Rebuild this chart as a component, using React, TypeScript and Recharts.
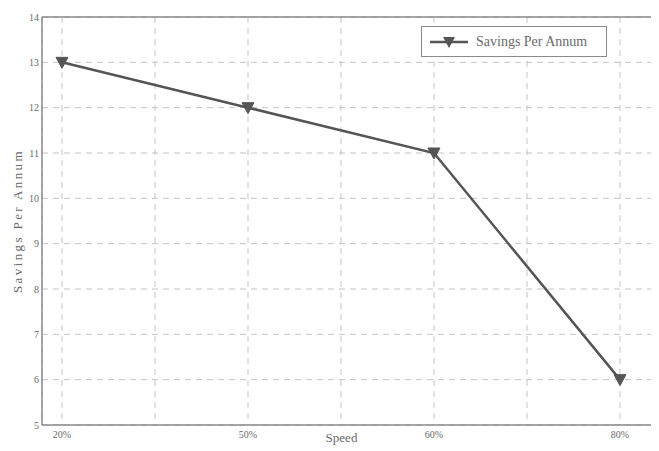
import React from 'react';
import { LineChart, Line, XAxis, YAxis, CartesianGrid, ReferenceLine } from 'recharts';

const speedLabels = ['20%', '50%', '60%', '80%'];
const savingsPerAnnum = [13, 12, 11, 6];
const yTicks = [5, 6, 7, 8, 9, 10, 11, 12, 13, 14];
const xGridTicks = [0, 0.5, 1, 1.5, 2, 2.5, 3];
const seriesName = 'Savings Per Annum';

const data = speedLabels.map((s, i) => ({ x: i, label: s, savings: savingsPerAnnum[i] }));

const FONT = '"Liberation Serif", "DejaVu Serif", serif';
const TEXT = '#6a6a6a';
const AXIS = '#8a8a8a';
const LINE = '#555555';

const Tri = (props: any) => {
  const { cx, cy } = props;
  if (cx == null || cy == null) return null;
  return (
    <polygon
      points={`${cx - 6},${cy - 5} ${cx + 6},${cy - 5} ${cx},${cy + 6}`}
      fill={LINE}
      stroke={LINE}
      strokeWidth={1}
    />
  );
};

const LegendBox = () => (
  <div
    style={{
      position: 'absolute',
      left: 413,
      top: 18,
      width: 184,
      height: 29,
      border: `1px solid ${AXIS}`,
      background: '#fff',
      display: 'flex',
      alignItems: 'center',
      fontFamily: FONT,
      fontSize: 14,
      color: TEXT,
    }}
  >
    <svg width={46} height={20} style={{ marginLeft: 6 }}>
      <line x1={2} y1={10} x2={40} y2={10} stroke={LINE} strokeWidth={2.5} />
      <polygon points="15,5 27,5 21,16" fill={LINE} />
    </svg>
    <span style={{ marginLeft: 2 }}>{seriesName}</span>
  </div>
);

export default function App() {
  return (
    <div style={{ position: 'relative', width: 651, height: 443 }}>
      <LineChart width={651} height={443} data={data} margin={{ top: 9, right: 0, bottom: 0, left: 0 }}>
        <CartesianGrid stroke="#c4c4c4" strokeDasharray="6 5" />
        <XAxis
          type="number"
          dataKey="x"
          height={26}
          domain={[-0.1075, 3.2097]}
          allowDataOverflow
          ticks={xGridTicks}
          interval={0}
          tickFormatter={(v: number) => (Number.isInteger(v) ? speedLabels[v] : '')}
          tickLine={false}
          tickSize={4}
          tickMargin={2}
          axisLine={{ stroke: AXIS, strokeWidth: 1.5 }}
          tick={{ fontFamily: FONT, fontSize: 10, fill: TEXT }}
          label={{ value: 'Speed', position: 'insideBottom', offset: 9, dx: -9, style: { fontFamily: FONT, fontSize: 13, fill: TEXT } }}
        />
        <YAxis
          type="number"
          domain={[5, 14]}
          ticks={yTicks}
          interval={0}
          width={34}
          tickLine={false}
          tickSize={2}
          tickMargin={1}
          axisLine={{ stroke: AXIS, strokeWidth: 1.5 }}
          tick={{ fontFamily: FONT, fontSize: 10, fill: TEXT }}
          label={{ value: seriesName, angle: -90, position: 'insideLeft', offset: 9, style: { fontFamily: FONT, fontSize: 13, fill: TEXT, textAnchor: 'middle', letterSpacing: 2.4 } }}
        />
        <ReferenceLine y={14} stroke={AXIS} strokeWidth={1.5} />
        <Line
          type="linear"
          dataKey="savings"
          name={seriesName}
          stroke={LINE}
          strokeWidth={2.5}
          dot={<Tri />}
          activeDot={false}
          isAnimationActive={false}
        />
      </LineChart>
      <LegendBox />
    </div>
  );
}
